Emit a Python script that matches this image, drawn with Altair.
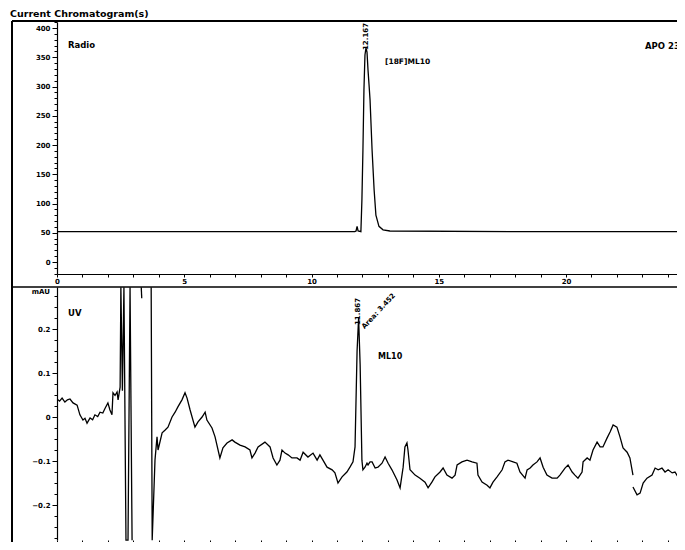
import altair as alt
import pandas as pd

# ---------------- data ----------------
# Radio (top panel)
radio_t = [0.0, 5.0, 10.0, 11.70, 11.75, 11.79, 11.83, 11.94, 11.98, 12.02, 12.06, 12.10,
           12.14, 12.18, 12.22, 12.26, 12.30, 12.38, 12.46, 12.53, 12.65, 12.81, 13.08, 18.0, 24.68]
radio_v = [52, 52, 52, 52, 53, 61, 53, 52, 106, 191, 294, 354,
           366, 359, 328, 303, 277, 191, 123, 80, 61, 55, 53, 52, 52]

# UV (bottom panel), split in segments where the trace leaves the scale
uv_seg1_t = [0.00, 0.10, 0.20, 0.31, 0.41, 0.51, 0.63, 0.79, 0.90, 1.02, 1.10, 1.18, 1.30, 1.40,
             1.49, 1.60, 1.69, 1.80, 1.89, 2.00, 2.08, 2.16, 2.20, 2.28, 2.36, 2.40, 2.48, 2.51,
             2.57, 2.63, 2.71, 2.79, 2.87, 2.95]
uv_seg1_v = [0.041, 0.036, 0.043, 0.034, 0.039, 0.041, 0.032, 0.027, 0.005, -0.007, -0.003, -0.014,
             -0.002, -0.006, 0.005, 0.001, 0.011, 0.009, 0.020, 0.032, 0.016, 0.005, 0.055, 0.049,
             0.057, 0.039, 0.068, 0.295, 0.06, 0.295, -0.28, -0.28, 0.295, -0.28]
uv_seg2_t = [3.31, 3.33]
uv_seg2_v = [0.295, 0.27]
uv_seg3_t = [3.70, 3.74, 3.85, 3.93, 3.97, 4.13, 4.24, 4.36, 4.52, 4.64, 4.75, 4.91, 5.03, 5.11,
             5.23, 5.42, 5.54, 5.70, 5.82, 5.89, 6.09, 6.21, 6.40, 6.52, 6.68, 6.88, 6.99, 7.19,
             7.39, 7.58, 7.66, 7.78, 7.90, 8.17, 8.37, 8.49, 8.64, 8.76, 8.84, 8.96, 9.08, 9.23,
             9.43, 9.55, 9.67, 9.86, 10.06, 10.22, 10.33, 10.45, 10.61, 10.81, 10.92, 11.04, 11.20,
             11.39, 11.51, 11.63, 11.71, 11.79, 11.85, 11.91, 11.98, 12.02, 12.10, 12.18, 12.22,
             12.30, 12.38, 12.50, 12.61, 12.77, 12.89, 13.01, 13.16, 13.36, 13.48, 13.60, 13.67,
             13.75, 13.79, 13.87, 14.07, 14.26, 14.46, 14.58, 14.73, 14.85, 15.05, 15.17, 15.32,
             15.52, 15.64, 15.72, 15.91, 16.11, 16.31, 16.50, 16.54, 16.70, 16.90, 17.01, 17.13,
             17.29, 17.49, 17.60, 17.72, 17.92, 18.07, 18.19, 18.39, 18.47, 18.59, 18.70, 18.86,
             18.98, 19.10, 19.25, 19.45, 19.65, 19.76, 19.96, 20.08, 20.24, 20.35, 20.47, 20.63,
             20.67, 20.83, 20.94, 21.06, 21.22, 21.34, 21.45, 21.61, 21.73, 21.85, 22.00, 22.12,
             22.24, 22.40, 22.51, 22.63]
uv_seg3_v = [0.295, -0.28, -0.098, -0.045, -0.075, -0.036, -0.030, -0.023, 0.000, 0.011, 0.023,
             0.039, 0.055, 0.043, 0.016, -0.023, -0.011, 0.000, 0.011, -0.007, -0.025, -0.045,
             -0.093, -0.070, -0.059, -0.052, -0.057, -0.064, -0.068, -0.075, -0.093, -0.082,
             -0.068, -0.057, -0.068, -0.093, -0.109, -0.098, -0.075, -0.082, -0.086, -0.093,
             -0.093, -0.098, -0.080, -0.091, -0.082, -0.098, -0.086, -0.098, -0.114, -0.120,
             -0.127, -0.150, -0.136, -0.125, -0.114, -0.102, -0.068, 0.150, 0.225, 0.120, -0.098,
             -0.120, -0.114, -0.105, -0.109, -0.102, -0.102, -0.116, -0.114, -0.105, -0.091,
             -0.105, -0.120, -0.143, -0.161, -0.114, -0.068, -0.059, -0.075, -0.120, -0.132,
             -0.139, -0.148, -0.161, -0.148, -0.136, -0.125, -0.116, -0.132, -0.139, -0.132,
             -0.109, -0.102, -0.098, -0.102, -0.105, -0.132, -0.148, -0.155, -0.161, -0.148,
             -0.136, -0.120, -0.102, -0.098, -0.102, -0.105, -0.125, -0.139, -0.120, -0.116,
             -0.109, -0.102, -0.093, -0.114, -0.132, -0.139, -0.139, -0.132, -0.116, -0.109,
             -0.125, -0.132, -0.139, -0.125, -0.102, -0.093, -0.098, -0.075, -0.057, -0.068,
             -0.068, -0.048, -0.034, -0.018, -0.023, -0.045, -0.070, -0.080, -0.093, -0.132]
uv_seg4_t = [22.63, 22.79, 22.91, 23.03, 23.18, 23.38, 23.50, 23.62, 23.77, 23.89, 24.01, 24.17,
             24.28, 24.40, 24.56, 24.68]
uv_seg4_v = [-0.159, -0.177, -0.173, -0.150, -0.139, -0.132, -0.116, -0.120, -0.116, -0.125,
             -0.120, -0.127, -0.125, -0.136, -0.127, -0.116]

x_major = [0, 5, 10, 15, 20]
top_y_labels = [0, 50, 100, 150, 200, 250, 300, 350, 400]
bot_y_labels = [-0.2, -0.1, 0.0, 0.1, 0.2]

# ---------------- tables ----------------
radio_df = pd.DataFrame({"t": radio_t, "v": radio_v})
uv_df = pd.concat([
    pd.DataFrame({"t": uv_seg1_t, "v": uv_seg1_v, "seg": "a"}),
    pd.DataFrame({"t": uv_seg2_t, "v": uv_seg2_v, "seg": "b"}),
    pd.DataFrame({"t": uv_seg3_t, "v": uv_seg3_v, "seg": "c"}),
    pd.DataFrame({"t": uv_seg4_t, "v": uv_seg4_v, "seg": "d"}),
], ignore_index=True)

# whole SVG must stay within 669 x 534 (page 685 x 550 minus 8px margins)
W, H = 620, 520
FONT = "DejaVu Sans"

x_dom = [0, 24.36]
top_dom, top_rng = [-20.5, 410.3], [252, 0]
bot_dom, bot_rng = [-0.2795, 0.2955], [518, 265]

x_ticks = list(range(0, 25))
label_expr = "datum.value % 5 == 0 ? datum.label : ''"

top_minor = [v for v in range(-20, 411, 10) if v % 50 != 0]
bot_minor = [round(-0.275 + 0.025 * i, 3) for i in range(23)]
bot_minor = [v for v in bot_minor if abs(round(v * 10) - v * 10) > 1e-6]


def xs():
    return alt.Scale(domain=x_dom, nice=False, zero=False)


# Radio trace with its axes
radio_line = alt.Chart(radio_df).mark_line(color="black", strokeWidth=1.3, clip=True).encode(
    x=alt.X("t:Q", scale=xs(), axis=alt.Axis(
        values=x_ticks, labelExpr=label_expr, orient="bottom", offset=-268,
        tickSize=3, labelPadding=0, labelFlush=False, title=None, grid=False)),
    y=alt.Y("v:Q", scale=alt.Scale(domain=top_dom, range=top_rng, nice=False, zero=False),
            axis=alt.Axis(values=top_y_labels, format="d", orient="left", tickSize=5,
                          labelPadding=2, title=None, grid=False)),
)
radio_minor = alt.Chart(radio_df).mark_line(opacity=0).encode(
    x=alt.X("t:Q", scale=xs(), axis=None),
    y=alt.Y("v:Q", scale=alt.Scale(domain=top_dom, range=top_rng, nice=False, zero=False),
            axis=alt.Axis(values=top_minor, labels=False, domain=False, orient="left",
                          tickSize=3, title=None, grid=False)),
)

# UV trace with its axes
uv_line = alt.Chart(uv_df).mark_line(color="black", strokeWidth=1.3, clip=True).encode(
    x=alt.X("t:Q", scale=xs(), axis=alt.Axis(
        values=x_ticks, labelExpr=label_expr, orient="bottom", offset=-2, domain=False,
        tickSize=5, labelPadding=2, labelFlush=False, title=None, grid=False)),
    y=alt.Y("v:Q", scale=alt.Scale(domain=bot_dom, range=bot_rng, nice=False, zero=False),
            axis=alt.Axis(values=bot_y_labels, format=".1~f", orient="left", tickSize=5,
                          labelPadding=2, title=None, grid=False)),
    detail="seg:N",
)
uv_minor = alt.Chart(uv_df).mark_line(opacity=0).encode(
    x=alt.X("t:Q", scale=xs(), axis=None),
    y=alt.Y("v:Q", scale=alt.Scale(domain=bot_dom, range=bot_rng, nice=False, zero=False),
            axis=alt.Axis(values=bot_minor, labels=False, domain=False, orient="left",
                          tickSize=3, title=None, grid=False)),
    detail="seg:N",
)

one = pd.DataFrame({"k": [0]})


def rule(x, x2, y, y2, w):
    return alt.Chart(one).mark_rule(color="black", strokeWidth=w).encode(
        x=alt.value(x), x2=alt.value(x2), y=alt.value(y), y2=alt.value(y2))


def label(text, x, y, size=8, align="left", angle=0):
    kw = dict(align=align, baseline="middle", font=FONT, fontWeight="bold",
              fontSize=size, color="black")
    if angle:
        kw["angle"] = angle
    return alt.Chart(pd.DataFrame({"s": [text]})).mark_text(**kw).encode(
        x=alt.value(x), y=alt.value(y), text="s:N")


frame = [
    rule(-45, W, -1, -1, 2),       # top border
    rule(-45, -45, -1, H, 2),      # left border
    rule(-45, W, 265, 265, 1.5),   # panel separator
]

texts = [
    label("Current Chromatogram(s)", -47, -8, size=9.5),
    label("Radio", 11, 23, size=8.5),
    label("APO 23", 588, 24, size=8.5),
    label("[18F]ML10", 328, 40, size=7.5),
    label("12.167", 309, 28, size=7, angle=270),
    label("UV", 11, 291, size=8.5),
    label("mAU", -7, 270, size=7, align="right"),
    label("11.867", 301, 303, size=7, angle=270),
    label("Area: 3.452", 306, 306, size=7, angle=313),
    label("ML10", 321, 335, size=8),
]

chart = alt.layer(
    radio_line, radio_minor, uv_line, uv_minor, *frame, *texts
).resolve_scale(
    x="independent", y="independent"
).resolve_axis(
    x="independent", y="independent"
).properties(
    width=W, height=H,
    padding={"left": 49, "top": 14, "right": 0, "bottom": 0},
    autosize=alt.AutoSizeParams(type="none"),
    background="white",
).configure_view(
    stroke=None
).configure_axis(
    labelFont=FONT, labelFontWeight="bold", labelFontSize=7, labelColor="black",
    tickColor="black", domainColor="black", tickWidth=1, domainWidth=1.2,
)

chart.save("out.html", embed_options={"renderer": "svg", "actions": False})
